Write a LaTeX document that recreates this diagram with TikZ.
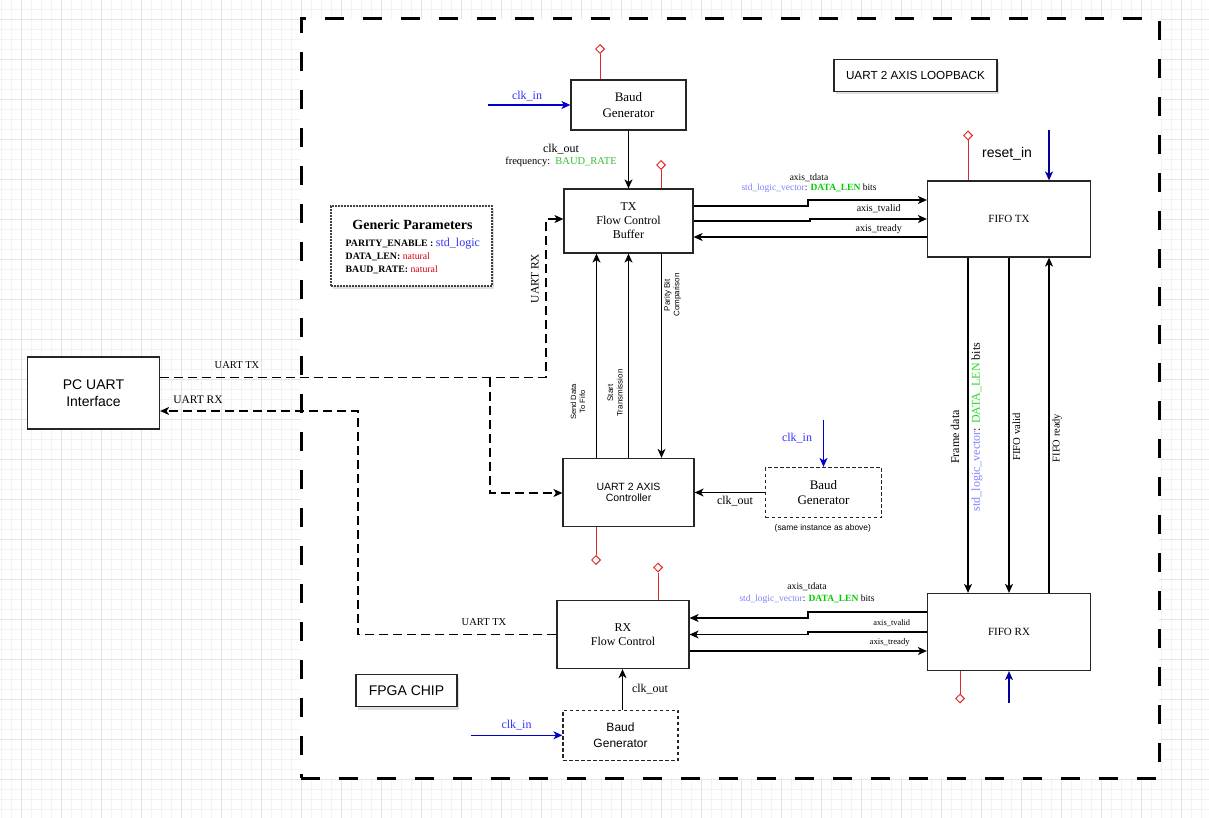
\documentclass[tikz,border=0pt]{standalone}
\usepackage{fontspec}
\setmainfont{Liberation Serif}
\setsansfont{Liberation Sans}
\usetikzlibrary{arrows.meta,shapes.geometric,shadows}

\definecolor{clkblue}{RGB}{0,0,204}
\definecolor{clktext}{RGB}{51,51,255}
\definecolor{rstblue}{RGB}{0,0,153}
\definecolor{rstred}{RGB}{224,40,40}
\definecolor{vecpurple}{RGB}{128,128,255}
\definecolor{lengreen}{RGB}{0,204,0}
\definecolor{lenlight}{RGB}{40,220,40}
\definecolor{baudgreen}{RGB}{51,190,51}
\definecolor{natred}{RGB}{210,0,20}
\definecolor{gridminor}{RGB}{243,243,243}
\definecolor{gridmajor}{RGB}{228,228,228}

\newcommand\fsz[2]{\fontsize{#1}{#2}\selectfont}
\newcommand\vecbits[2]{\textcolor{vecpurple}{std\_logic\_vector}: {#1\color{#2}DATA\_LEN} bits}

\tikzset{
  tip/.style={-{Stealth[length=9pt,width=8pt,inset=2.5pt]}},
  block/.style={draw=black!85, line width=1.2pt, fill=white, align=center, inner sep=0pt},
  dblock/.style={block, dash pattern=on 3.5pt off 2.5pt},
  sig/.style={line width=1.2pt, draw=black},
  arr/.style={sig, tip},
  darr/.style={sig, dash pattern=on 9pt off 5pt, tip},
  clkarr/.style={line width=1.2pt, draw=clkblue, tip},
  rstarr/.style={line width=1.2pt, draw=rstblue, tip},
  rstline/.style={line width=1pt, draw=rstred},
  rstpin/.style={diamond, draw=rstred, line width=1pt, fill=white, inner sep=0pt,
                 minimum width=9pt, minimum height=9pt},
  lbl/.style={inner sep=0pt, align=center},
  shadowed/.style={drop shadow={opacity=0.25, shadow xshift=2pt, shadow yshift=-3pt}},
}

\begin{document}
\begin{tikzpicture}[x=1pt,y=-1pt]
\useasboundingbox (0,0) rectangle (1209,818);

% editor grid
\foreach \gx in {1,11,...,1209} \draw[gridminor, line width=0.6pt] (\gx,0) -- (\gx,818);
\foreach \gy in {9,19,...,818} \draw[gridminor, line width=0.6pt] (0,\gy) -- (1209,\gy);
\foreach \gx in {21,61,...,1209} \draw[gridmajor, line width=0.6pt] (\gx,0) -- (\gx,818);
\foreach \gy in {19,59,...,818} \draw[gridmajor, line width=0.6pt] (0,\gy) -- (1209,\gy);

% FPGA boundary
\node[draw=black, fill=white, line width=3pt, dash pattern=on 19pt off 19pt, inner sep=0pt,
      minimum width=858pt, minimum height=759pt] (fpga) at (730,398.5) {};

% ---------------- blocks ----------------
\node[block, minimum width=132pt, minimum height=72pt, font=\sffamily\fsz{14}{17.3}] (pc) at (93.5,393) {PC UART\\Interface};
\node[block, minimum width=115pt, minimum height=50pt, font=\fsz{13}{15.4}] (baud1) at (628.5,105) {Baud\\Generator};
\node[block, minimum width=129pt, minimum height=64pt, font=\fsz{12}{14}] (txfc) at (628.5,221) {TX\\Flow Control\\Buffer};
\node[block, minimum width=163pt, minimum height=76pt, font=\fsz{11}{13}] (fifotx) at (1009,219) {FIFO TX};
\node[block, minimum width=131pt, minimum height=68pt, font=\sffamily\fsz{10.5}{10.5}] (ctrl) at (628.5,492.5) {UART 2 AXIS\\Controller};
\node[dblock, minimum width=116pt, minimum height=50pt, font=\fsz{13}{15.4}] (baud2) at (823.5,492.5) {Baud\\Generator};
\node[block, minimum width=132pt, minimum height=68pt, font=\fsz{12}{14.7}] (rxfc) at (623,634.5) {RX\\Flow Control};
\node[block, minimum width=163pt, minimum height=77pt, font=\fsz{11}{13}] (fiforx) at (1009,632) {FIFO RX};
\node[dblock, minimum width=115pt, minimum height=50pt, font=\sffamily\fsz{12}{15.7}] (baud3) at (620.5,735.3) {Baud\\Generator};

\node[block, shadowed, minimum width=101pt, minimum height=32pt, font=\sffamily\fsz{14}{16}] (chip) at (406.5,690.7) {FPGA CHIP};
\node[block, shadowed, minimum width=163pt, minimum height=32pt, font=\sffamily\fsz{11.7}{14}] (loop) at (915.5,75.2) {UART 2 AXIS LOOPBACK};

% generic parameter list
\node[block, shadowed, draw=black!75, dash pattern=on 2pt off 1pt, minimum width=161pt, minimum height=80pt] (gen) at (411.5,246) {};
\node[lbl, font=\bfseries\fsz{14}{16}] (gtitle) at (412.5,225) {Generic Parameters};
\node[lbl, anchor=base west, font=\fsz{9.8}{12}] (gpar) at (345.5,246.8) {\textbf{PARITY\_ENABLE :} \textcolor{clktext}{\fsz{12}{14}std\_logic}};
\node[lbl, anchor=base west, font=\fsz{9.8}{12}] (glen) at (345.5,259.2) {\textbf{DATA\_LEN:} \textcolor{natred}{natural}};
\node[lbl, anchor=base west, font=\fsz{9.8}{12}] (gbaud) at (345.5,272.5) {\textbf{BAUD\_RATE:} \textcolor{natred}{natural}};

% ---------------- reset pins ----------------
\node[rstpin] (rbaud1) at (600,49) {};
\node[rstpin] (rtx) at (661,165) {};
\node[rstpin] (rftx) at (968,135.5) {};
\node[rstpin] (rctrl) at (596,560) {};
\node[rstpin] (rrx) at (658,567.5) {};
\node[rstpin] (rfrx) at (960,698.5) {};
\draw[rstline] ([xshift=-28.5pt]baud1.north) -- (rbaud1.south);
\draw[rstline] ([xshift=32.5pt]txfc.north) -- (rtx.south);
\draw[rstline] ([xshift=-41pt]fifotx.north) -- (rftx.south);
\draw[rstline] ([xshift=-32.5pt]ctrl.south) -- (rctrl.north);
\draw[rstline] ([xshift=35pt]rxfc.north) -- (rrx.south);
\draw[rstline] ([xshift=-49pt]fiforx.south) -- (rfrx.north);

% ---------------- clocks and resets in ----------------
\coordinate (clkA) at (488,105);
\coordinate (clkB) at (823.5,420);
\coordinate (clkC) at (471,735.3);
\coordinate (rstA) at (1049,130);
\coordinate (rstB) at (1009,703);
\draw[clkarr] (clkA) -- (baud1.west);
\draw[clkarr] (clkB) -- (baud2.north);
\draw[clkarr] (clkC) -- (baud3.west);
\draw[rstarr] (rstA) -- ([xshift=40pt]fifotx.north);
\draw[rstarr] (rstB) -- (fiforx.south);

\node[lbl, text=clktext, font=\fsz{12}{14}] (lclkA) at (527,96) {clk\_in};
\node[lbl, text=clktext, font=\fsz{12}{14}] (lclkB) at (797,438) {clk\_in};
\node[lbl, text=clktext, font=\fsz{12}{14}] (lclkC) at (516.5,725) {clk\_in};
\node[lbl, font=\sffamily\fsz{14}{16}] (lrst) at (1007,154) {reset\_in};

% ---------------- baud outputs ----------------
\draw[arr] (baud1.south) -- (baud1.south |- txfc.north);
\node[lbl, font=\fsz{12}{14}] (lco1) at (561,149) {clk\_out};
\node[lbl, font=\fsz{10.5}{12}] (lfreq) at (561,161.5) {frequency:\ \ \textcolor{baudgreen}{BAUD\_RATE}};

\draw[arr] (baud2.west) -- (ctrl.east);
\node[lbl, font=\fsz{12}{14}] (lco2) at (735,501) {clk\_out};
\node[lbl, font=\sffamily\fsz{8.4}{10}] (lsame) at (822.8,528.7) {(same instance as above)};

\draw[arr] ([xshift=2pt]baud3.north) -- ([xshift=2pt]baud3.north |- rxfc.south);
\node[lbl, font=\fsz{12}{14}] (lco3) at (650,689.5) {clk\_out};

% ---------------- TX buffer <-> FIFO TX ----------------
\draw[arr] ([yshift=15pt]txfc.east) -- (808,206) -- (808,200) -- ([yshift=19pt]fifotx.west);
\draw[arr] (txfc.east) -- (810,221) -- (810,219) -- (fifotx.west);
\draw[arr] ([yshift=-18pt]fifotx.west) -- ([yshift=-16pt]txfc.east);
\node[lbl, font=\fsz{9.5}{11}] (ltd1) at (809,177.7) {axis\_tdata};
\node[lbl, font=\fsz{9.5}{11}] (lvec1) at (809,188) {\vecbits{\bfseries}{lengreen}};
\node[lbl, font=\fsz{10}{12}] (ltv1) at (878.7,209) {axis\_tvalid};
\node[lbl, font=\fsz{10}{12}] (ltr1) at (878.7,229.5) {axis\_tready};

% ---------------- FIFO RX <-> RX flow control ----------------
\draw[arr] ([yshift=20pt]fiforx.west) -- (808,612) -- (808,618) -- ([yshift=16.5pt]rxfc.east);
\draw[arr] (fiforx.west) -- (808,632) -- (808,634.5) -- (rxfc.east);
\draw[arr] ([yshift=-16.5pt]rxfc.east) -- ([yshift=-19pt]fiforx.west);
\node[lbl, font=\fsz{9.7}{11}] (ltd2) at (807,587) {axis\_tdata};
\node[lbl, font=\fsz{9.5}{11}] (lvec2) at (807,599) {\vecbits{\bfseries}{lengreen}};
\node[lbl, font=\fsz{8.4}{10}] (ltv2) at (891.7,623.3) {axis\_tvalid};
\node[lbl, font=\fsz{8.7}{10}] (ltr2) at (889.7,642) {axis\_tready};

% ---------------- FIFO TX -> FIFO RX ----------------
\draw[arr] ([xshift=-41pt]fifotx.south) -- ([xshift=-41pt]fiforx.north);
\draw[arr] (fifotx.south) -- (fiforx.north);
\draw[arr] ([xshift=40pt]fiforx.north) -- ([xshift=40pt]fifotx.south);
\node[lbl, rotate=90, font=\fsz{12}{14}] (lfd) at (955,437) {Frame data};
\node[lbl, rotate=90, font=\fsz{12}{14}] (lvec3) at (977,427) {\vecbits{}{lenlight}};
\node[lbl, rotate=90, font=\fsz{10.7}{12}] (lfv) at (1016.5,437) {FIFO valid};
\node[lbl, rotate=90, font=\fsz{10.4}{12}] (lfr) at (1057,438) {FIFO ready};

% ---------------- TX buffer <-> controller ----------------
\draw[arr] ([xshift=-32pt]ctrl.north) -- ([xshift=-32pt]txfc.south);
\draw[arr] (ctrl.north) -- (txfc.south);
\draw[arr] ([xshift=33pt]txfc.south) -- ([xshift=33pt]ctrl.north);
\node[lbl, rotate=90, font=\sffamily\fsz{7.6}{9}] (lsend) at (578,402) {Send Data\\To Fifo};
\node[lbl, rotate=90, font=\sffamily\fsz{8}{9.5}] (lstart) at (615,393) {Start\\Transmission};
\node[lbl, rotate=90, font=\sffamily\fsz{8}{9.5}] (lpar) at (672.5,295) {Parity Bit\\Comparison};

% ---------------- UART lines ----------------
\coordinate (split) at (490,377.5);
\draw[darr] ([yshift=15.5pt]pc.east) -- (546,377.5) -- (546,219) -- ([yshift=2pt]txfc.west);
\draw[darr] (split) -- (490,493) -- ([yshift=-0.5pt]ctrl.west);
\draw[darr] (rxfc.west) -- (358,634.5) -- (358,411) -- ([yshift=-18pt]pc.east);
\node[lbl, font=\fsz{10.5}{12}] (lutx1) at (237,365.5) {UART TX};
\node[lbl, font=\fsz{11.5}{13}] (lurx1) at (198,400) {UART RX};
\node[lbl, rotate=90, font=\fsz{11.5}{13}] (lurx2) at (535,278.5) {UART RX};
\node[lbl, font=\fsz{10.5}{12}] (lutx2) at (484,622.3) {UART TX};

\end{tikzpicture}
\end{document}
